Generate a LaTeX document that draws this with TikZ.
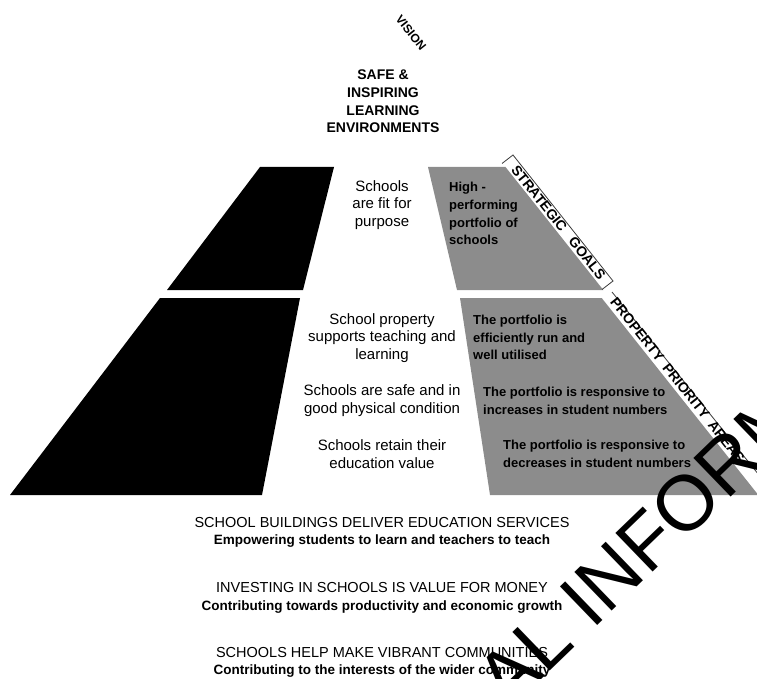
\documentclass[tikz,border=0pt]{standalone}
\usepackage{fontspec}
\setmainfont{Liberation Sans}
\usepackage{tikz}
\usetikzlibrary{positioning,calc}
\definecolor{stipple}{HTML}{8C8C8C}
\definecolor{edge}{HTML}{3A3A3A}

\begin{document}
\begin{tikzpicture}[x=1pt,y=-1pt,every node/.style={inner sep=0pt,align=center},vision/.style={font=\fontsize{14}{17.7}\selectfont\bfseries},aim/.style={font=\fontsize{15}{17.8}\selectfont},goal/.style={font=\fontsize{13}{17.8}\selectfont\bfseries,align=left,anchor=west},band/.style={font=\fontsize{14}{14}\selectfont\bfseries,rotate=-51.5},claim/.style={font=\fontsize{14.5}{14.5}\selectfont,anchor=base},gloss/.style={font=\fontsize{13.5}{13.5}\selectfont\bfseries,anchor=base},rim/.style={draw=edge,line width=0.8pt}]
\useasboundingbox (0,0) rectangle (757,679);
\clip (0,0) rectangle (757,679);
\fill[black] (260,167)--(334,167)--(303,290)--(167,290)--cycle;
\fill[black] (160,298)--(300,298)--(262,495)--(10,495)--cycle;
\fill[stipple] (428,167)--(505.5,167)--(603.3,290)--(457,290)--cycle;
\fill[stipple] (460,298)--(601.7,298)--(758.3,495)--(490,495)--cycle;
\coordinate (goalstop) at (513,155);
\coordinate (goalsend) at (613,281);
\coordinate (areastop) at (612,292);
\coordinate (areasend) at (763,480);
\draw[rim] ($(goalstop)+(-11,8.5)$)--(goalstop)--(goalsend)--($(goalsend)+(-11,8.5)$);
\draw[rim] (areastop)--(areasend);
\node[band,font=\fontsize{12}{12}\selectfont\bfseries] (visionlbl) at (411,33) {VISION};
\node[vision] (ideal) at (383,101.5) {SAFE \&\\INSPIRING\\LEARNING\\ENVIRONMENTS};
\node[aim] (fit) at (382,205) {Schools\\are fit for\\purpose};
\node[aim] (support) at (382,338) {School property\\supports teaching and\\learning};
\node[aim] (safe) at (382,400.5) {Schools are safe and in\\good physical condition};
\node[aim] (retain) at (382,454) {Schools retain their\\education value};
\node[goal] (perform) at (449,213.5) {High -\\performing\\portfolio of\\schools};
\node[goal] (run) at (473,337.5) {The portfolio is\\efficiently run and\\well utilised};
\node[goal] (grow) at (483,400.5) {The portfolio is responsive to\\increases in student numbers};
\node[goal] (shrink) at (503,454) {The portfolio is responsive to\\decreases in student numbers};
\node[band] (goals) at (558.5,222.5) {STRATEGIC\hspace{12pt}GOALS};
\node[band] (areas) at (677.5,380) {PROPERTY\hspace{7pt}PRIORITY\hspace{7pt}AREAS};
\node[claim] (services) at (382,527) {SCHOOL BUILDINGS DELIVER EDUCATION SERVICES};
\node[gloss] (empower) at (382,544) {Empowering students to learn and teachers to teach};
\node[claim] (money) at (382,592) {INVESTING IN SCHOOLS IS VALUE FOR MONEY};
\node[gloss] (growth) at (382,610) {Contributing towards productivity and economic growth};
\node[claim] (vibrant) at (382,657) {SCHOOLS HELP MAKE VIBRANT COMMUNITIES};
\node[gloss] (wider) at (382,674) {Contributing to the interests of the wider community};
\node[font=\fontsize{78}{78}\selectfont,rotate=44,anchor=base west] (stamp) at (508,712) {AL INFORM};
\end{tikzpicture}
\end{document}
